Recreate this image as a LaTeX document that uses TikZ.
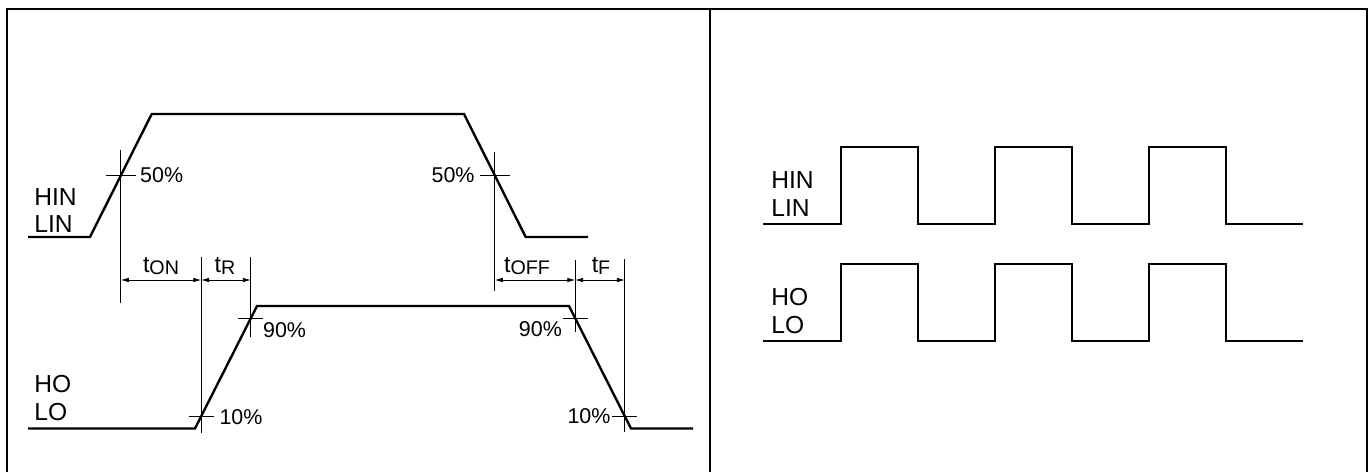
\documentclass[tikz,border=0pt]{standalone}
\usepackage{fontspec}
\setmainfont{Liberation Sans}
\usetikzlibrary{arrows.meta,calc}
\newcommand{\tlab}[1]{t\raisebox{-0.2ex}{\fontsize{11.2}{12}\selectfont #1}}
\tikzset{
  wave/.style={line width=1.35pt},
  ext/.style={line width=0.45pt},
  dim/.style={line width=0.45pt,<->},
  sig/.style={font=\fontsize{14}{16}\selectfont,inner sep=0pt,anchor=base west},
  pct/.style={font=\fontsize{12.2}{14}\selectfont,inner sep=0pt},
  tname/.style={font=\fontsize{13.2}{15}\selectfont,inner sep=0pt,anchor=base},
}

\begin{document}
\begin{tikzpicture}[x=0.2mm,y=-0.2mm,>={Latex[length=4.5pt,width=2.6pt]}]
    \useasboundingbox (0,0) rectangle (1370,472);
    % frame
    \draw[line width=1.4pt] (7,472) -- (7,9) -- (1367,9) -- (1367,472);
    \draw[line width=1.4pt] (710,9) -- (710,472);
    % input and output edges
    \coordinate (i1) at (90,237);
    \coordinate (i2) at (151.7,114);
    \coordinate (i3) at (464,114);
    \coordinate (i4) at (525.7,237);
    \coordinate (o1) at (195,428.5);
    \coordinate (o2) at (257,306);
    \coordinate (o3) at (569,306);
    \coordinate (o4) at (631,428.5);
    \draw[wave] (28,237) -- (i1) -- (i2) -- (i3) -- (i4) -- (588,237);
    \draw[wave] (28,428.5) -- (o1) -- (o2) -- (o3) -- (o4) -- (693,428.5);
    \node[sig] (hinL) at (34,205) {HIN};
    \node[sig] (linL) at (34,232) {LIN};
    \node[sig] (hoL) at (34,392) {HO};
    \node[sig] (loL) at (34,420) {LO};
    % 50%, 10% and 90% points
    \coordinate (pA) at ($(i1)!0.5!(i2)$);
    \coordinate (pB) at ($(i3)!0.5!(i4)$);
    \coordinate (qA) at ($(o1)!0.1!(o2)$);
    \coordinate (qB) at ($(o1)!0.9!(o2)$);
    \coordinate (qC) at ($(o3)!0.1!(o4)$);
    \coordinate (qD) at ($(o3)!0.9!(o4)$);
    \draw[ext] (pA |- 0,150) -- (pA |- 0,303);
    \draw[ext] (qA |- 0,257) -- (qA |- 0,433);
    \draw[ext] (qB |- 0,257) -- (qB |- 0,337);
    \draw[ext] (pB |- 0,152) -- (pB |- 0,291);
    \draw[ext] (qC |- 0,260) -- (qC |- 0,332);
    \draw[ext] (qD |- 0,259) -- (qD |- 0,432);
    \foreach \p/\w in {pA/15,pB/15,qA/12.5,qB/12.5,qC/12.5,qD/12.5}{\draw[ext] ($(\p)+(-\w,0)$) -- ($(\p)+(\w,0)$);}
    \node[pct,anchor=west] (pctA) at ($(pA)+(19,0)$) {50\%};
    \node[pct,anchor=east] (pctB) at ($(pB)+(-20,0)$) {50\%};
    \node[pct,anchor=west] (pctC) at ($(qA)+(18,1)$) {10\%};
    \node[pct,anchor=west] (pctD) at ($(qB)+(12,12)$) {90\%};
    \node[pct,anchor=east] (pctE) at ($(qC)+(-13,11)$) {90\%};
    \node[pct,anchor=east] (pctF) at ($(qD)+(-14,0)$) {10\%};
    % timing arrows
    \coordinate (ty) at (0,280);
    \draw[dim] (pA |- ty) -- (qA |- ty);
    \draw[dim] (qA |- ty) -- (qB |- ty);
    \draw[dim] (pB |- ty) -- (qC |- ty);
    \draw[dim] (qC |- ty) -- (qD |- ty);
    \node[tname] (tOn) at (161,272) {\tlab{ON}};
    \node[tname] (tR) at (225,272) {\tlab{R}};
    \node[tname] (tOff) at (527,272) {\tlab{OFF}};
    \node[tname] (tF) at (601,272) {\tlab{F}};
    % pulse train
    \draw[wave] (763,224.3) \foreach \x in {841,995,1149}{ -- (\x,224.3) -- (\x,147.3) -- (\x+77,147.3) -- (\x+77,224.3)} -- (1303,224.3);
    \draw[wave] (763,341) \foreach \x in {841,995,1149}{ -- (\x,341) -- (\x,264.3) -- (\x+77,264.3) -- (\x+77,341)} -- (1303,341);
    \node[sig] (hinR) at (771,188.3) {HIN};
    \node[sig] (linR) at (771,216.7) {LIN};
    \node[sig] (hoR) at (771,305.7) {HO};
    \node[sig] (loR) at (771,333.3) {LO};
\end{tikzpicture}
\end{document}
